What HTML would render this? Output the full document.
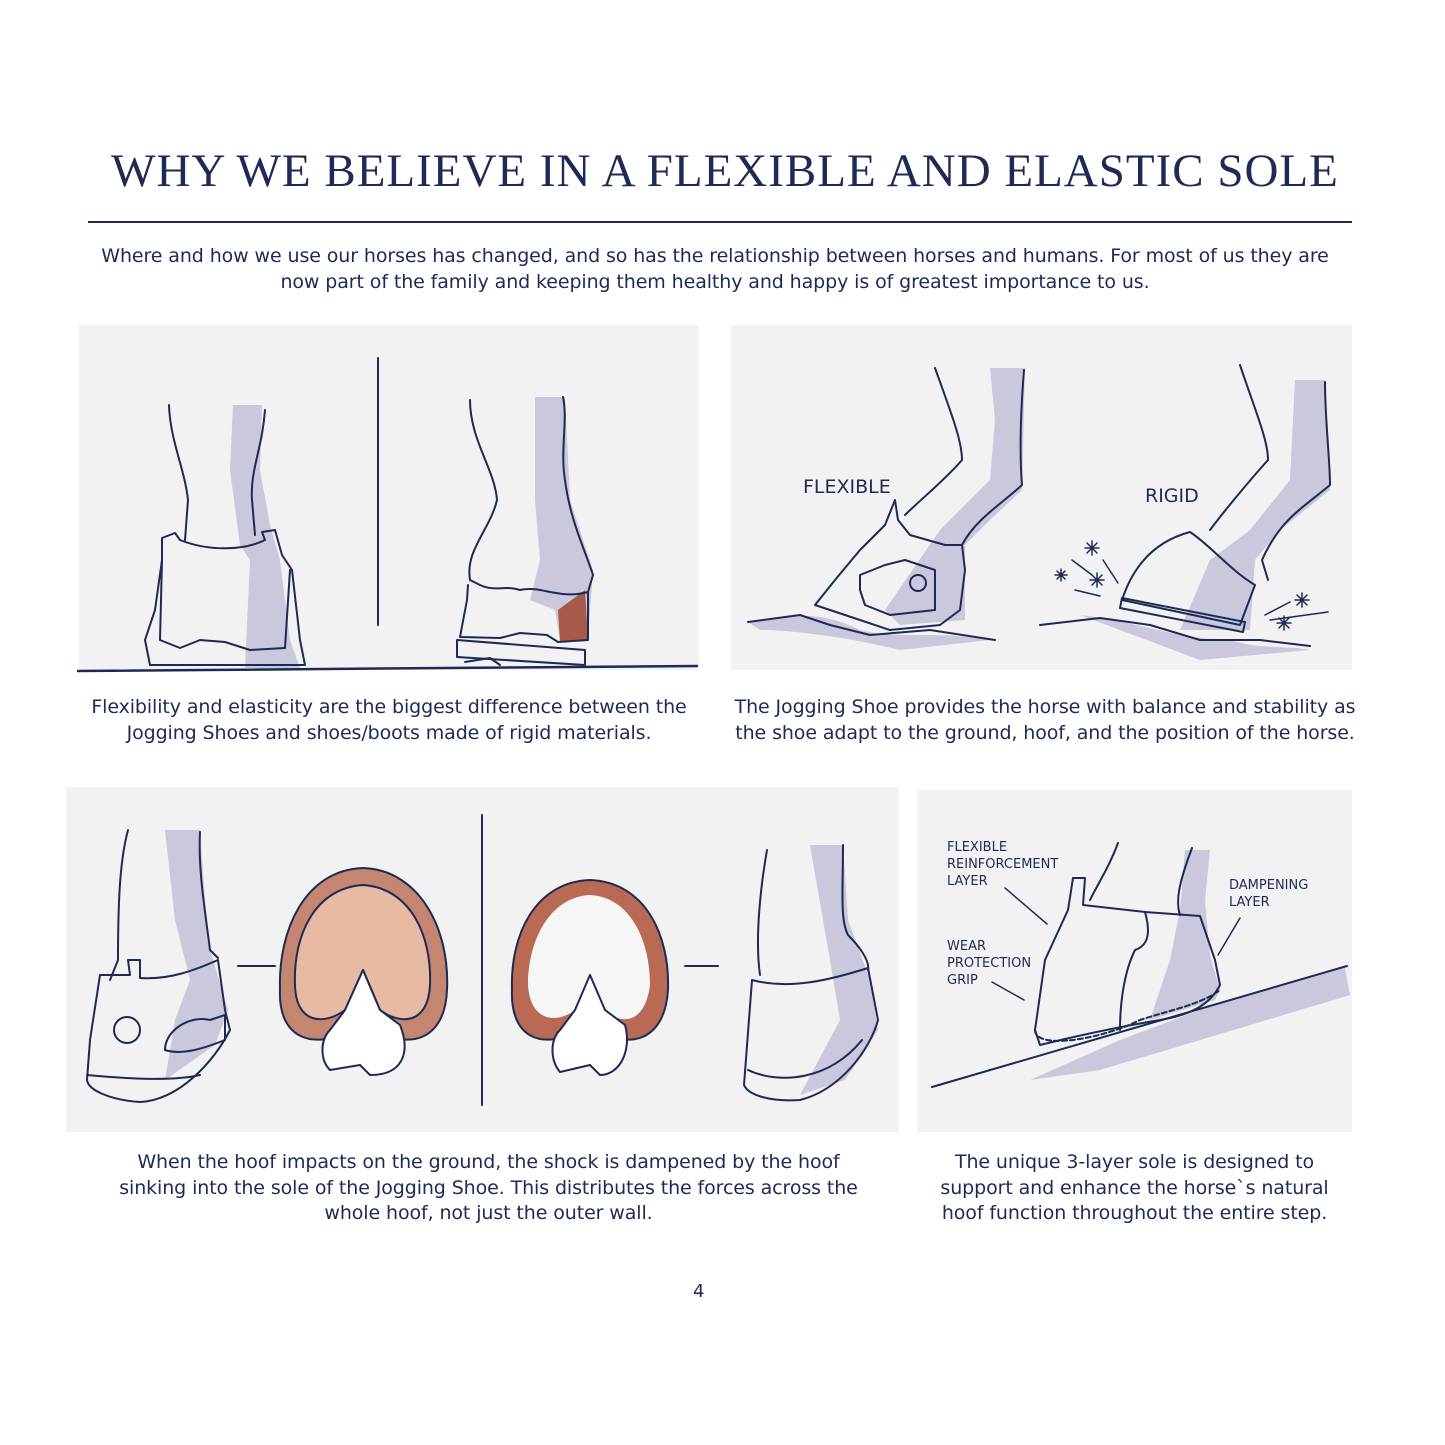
<!DOCTYPE html>
<html><head><meta charset="utf-8">
<style>
html,body{margin:0;padding:0;background:#fff;}
body{width:1445px;height:1445px;position:relative;overflow:hidden;font-family:"DejaVu Sans","Liberation Sans",sans-serif;color:#1c2a55;}
.t{position:absolute;white-space:nowrap;}
.title{left:0;width:1450px;text-align:center;top:144px;font-family:"Liberation Serif",serif;font-size:47px;letter-spacing:1px;color:#1c2a55;}
.p{font-size:19px;text-align:center;line-height:25.5px;letter-spacing:-0.1px;}
.panel{position:absolute;background:#f2f2f2;}
svg{position:absolute;left:0;top:0;}
.sm{font-size:13px;line-height:17px;}
</style></head><body>
<div class="t title">WHY WE BELIEVE IN A FLEXIBLE AND ELASTIC SOLE</div>
<div style="position:absolute;left:88px;top:221px;width:1264px;height:1.5px;background:#1c2a55"></div>
<div class="t p" style="left:0;width:1430px;top:244px;">Where and how we use our horses has changed, and so has the relationship between horses and humans. For most of us they are<br>now part of the family and keeping them healthy and happy is of greatest importance to us.</div>

<div class="panel" style="left:79px;top:325px;width:620px;height:345px"></div>
<div class="panel" style="left:731px;top:325px;width:621px;height:345px"></div>
<div class="panel" style="left:66px;top:787px;width:833px;height:345px"></div>
<div class="panel" style="left:917px;top:790px;width:435px;height:342px"></div>

<svg width="1445" height="1445" viewBox="0 0 1445 1445" fill="none" stroke="#1c2a55" stroke-width="2" stroke-linejoin="round" stroke-linecap="round">
<g>
<path d="M233 405 L262 405 L260 470 L270 525 L280 560 L290 640 L300 668 L245 668 L250 560 L240 545 L230 470 Z" fill="#c9c8dc" stroke="none"/>
<path d="M169 405 C170 440 185 470 188 500 L185 540"/>
<path d="M265 410 C262 450 250 470 252 500 L255 535"/>
<path d="M162 538 L175 533 L180 540 C210 552 245 550 265 540 L262 532 L275 530 L282 555 L292 570 L300 640 L305 665 L150 665 L145 640 L155 610 L162 560 Z"/>
<path d="M162 560 L160 640 L180 648 L200 640 L225 642 L250 650 L285 648 L290 570"/>
<path d="M78 671 L697 666" stroke-width="2.5"/>
<path d="M378 358 L378 625"/>
<path d="M535 397 L565 397 L570 500 L593 570 L588 640 L560 640 L555 610 L530 600 L540 560 L535 500 Z" fill="#c9c8dc" stroke="none"/>
<path d="M558 610 L585 590 L588 640 L560 642 Z" fill="#a85a4a" stroke="none"/>
<path d="M470 400 C470 440 495 470 497 500 C490 530 465 550 470 580"/>
<path d="M563 397 C568 420 560 450 565 480 C570 520 585 550 593 575 L588 592"/>
<path d="M470 580 L480 585 C495 592 505 585 520 590 C540 585 560 600 588 592 L588 640 L558 642 L547 635 L520 633 L500 638 L460 637 L467 600 L468 585"/>
<path d="M457 640 L585 650 L585 665 L457 657 Z"/>
<path d="M465 662 L490 658 L500 665"/>
</g>
<g>
<path d="M990 368 L1025 368 L1022 490 L990 520 L965 545 L965 620 L900 625 L885 610 L940 530 L990 480 L995 420 Z" fill="#c9c8dc" stroke="none"/>
<path d="M748 622 C790 615 820 610 860 630 C900 640 930 630 990 640 L900 650 C860 640 800 630 760 630 Z" fill="#c9c8dc" stroke="none"/>
<path d="M935 368 C950 410 962 440 962 460 C945 480 920 500 905 515"/>
<path d="M1024 370 C1020 420 1020 460 1022 485 C1000 505 975 520 962 545"/>
<path d="M885 525 L895 500 L898 520 L910 535 L945 545 L962 545 L965 570 L960 610 L940 625 L890 630 L845 615 L815 605 L835 580 L860 550 Z"/>
<path d="M860 575 L885 565 L905 560 L935 570 L935 610 L890 615 L865 605 L860 590 Z"/>
<circle cx="918" cy="583" r="8"/>
<path d="M748 622 L800 615 L830 625 L870 635 L930 630 L995 640"/>
<path d="M1295 380 L1325 380 L1330 490 L1280 530 L1255 560 L1250 630 L1180 630 L1210 560 L1250 530 L1290 480 Z" fill="#c9c8dc" stroke="none"/>
<path d="M1080 615 C1130 620 1180 640 1230 640 C1260 650 1290 645 1310 650 L1200 660 Z" fill="#c9c8dc" stroke="none"/>
<path d="M1240 365 C1255 410 1268 440 1268 460 C1250 480 1225 510 1210 530"/>
<path d="M1325 382 C1325 420 1330 460 1330 485 C1300 510 1280 520 1262 560 L1268 580"/>
<path d="M1122 600 C1135 560 1160 540 1190 532 C1210 545 1230 570 1255 585 L1240 625 Z"/>
<path d="M1122 598 L1245 622 L1243 632 L1120 608 Z"/>
<path d="M1040 625 L1100 618 L1150 625 L1200 640 L1260 640 L1310 646"/>
<g stroke-width="1.5"><path d="M1085 548 L1099 548 M1092 541 L1092 555 M1087 543 L1097 553 M1097 543 L1087 553"/><path d="M1055 575 L1067 575 M1061 569 L1061 581 M1057 571 L1065 579 M1065 571 L1057 579"/><path d="M1090 580 L1104 580 M1097 573 L1097 587 M1092 575 L1102 585 M1102 575 L1092 585"/><path d="M1072 560 L1092 575 M1103 560 L1118 583 M1075 590 L1100 596"/><path d="M1295 600 L1309 600 M1302 593 L1302 607 M1297 595 L1307 605 M1307 595 L1297 605"/><path d="M1277 623 L1291 623 M1284 616 L1284 630 M1279 618 L1289 628 M1289 618 L1279 628"/><path d="M1265 615 L1290 602 M1270 620 L1328 612"/></g>
</g>
<g>
<path d="M165 830 L200 830 L205 900 L210 950 L228 1010 L215 1045 L165 1080 L175 1020 L190 980 L175 920 Z" fill="#c9c8dc" stroke="none"/>
<path d="M128 830 C120 860 118 900 118 960 L110 980"/>
<path d="M200 832 C198 870 205 910 210 950 L218 958"/>
<path d="M100 975 L130 975 L128 960 L140 960 L140 978 C170 980 195 970 218 960 L225 1010 L230 1030 C215 1060 180 1100 140 1102 C110 1100 88 1090 87 1080 L90 1040 Z"/>
<circle cx="127" cy="1030" r="13"/>
<path d="M165 1050 C165 1030 190 1015 210 1020 L225 1015 L225 1040 C200 1050 180 1055 165 1050 Z"/>
<path d="M87 1075 C120 1078 170 1082 200 1075"/>
<path d="M238 966 L275 966 M685 966 L718 966"/>
<path d="M363 868 C420 870 450 930 447 990 C445 1040 410 1050 375 1030 L363 1000 L350 1030 C315 1050 278 1040 280 990 C278 930 305 870 363 868 Z" fill="#c48670"/>
<path d="M363 885 C410 888 432 935 430 985 C428 1025 400 1025 380 1010 L363 970 L345 1010 C325 1025 296 1025 295 985 C293 935 315 888 363 885 Z" fill="#e8b9a3"/>
<path d="M363 970 L380 1010 L400 1025 C410 1050 405 1075 370 1075 L360 1065 L330 1070 C320 1060 320 1040 330 1030 L345 1010 Z" fill="#fff"/>
<path d="M482 815 L482 1105"/>
<path d="M590 880 C645 882 670 935 668 990 C665 1040 630 1050 600 1030 L590 1000 L578 1030 C545 1050 510 1040 512 990 C510 935 535 882 590 880 Z" fill="#b96a54"/>
<path d="M590 895 C630 897 650 940 650 985 C645 1025 620 1025 605 1010 L590 975 L575 1010 C555 1025 530 1020 528 985 C528 940 550 897 590 895 Z" fill="#f6f6f6" stroke="none"/>
<path d="M590 975 L605 1010 L625 1025 C632 1050 620 1075 600 1075 L590 1065 L560 1072 C550 1060 550 1040 560 1030 L575 1010 Z" fill="#fff"/>
<path d="M810 845 L843 845 L848 920 L870 980 L878 1030 L845 1080 L800 1095 L840 1020 L830 960 Z" fill="#c9c8dc" stroke="none"/>
<path d="M767 850 C760 890 755 940 760 975"/>
<path d="M843 845 C843 890 840 920 848 935 C858 945 870 960 868 970"/>
<path d="M752 980 C790 990 830 980 868 968 L878 1020 C870 1050 840 1090 800 1100 C770 1102 748 1095 744 1085 Z"/>
<path d="M748 1070 C780 1085 830 1080 862 1040"/>
</g>
<g>
<path d="M1185 850 L1210 850 L1205 900 L1210 955 L1220 990 L1215 1000 L1150 1020 L1170 960 L1180 910 Z" fill="#c9c8dc" stroke="none"/>
<path d="M1030 1080 L1120 1040 L1200 1010 L1345 968 L1350 995 L1200 1040 L1100 1070 Z" fill="#c9c8dc" stroke="none"/>
<path d="M1118 843 C1110 865 1100 880 1090 900"/>
<path d="M1192 848 C1180 880 1175 900 1180 915"/>
<path d="M1073 878 L1085 878 L1083 905 L1145 912 L1200 916 L1215 960 L1220 985 C1210 1005 1190 1015 1160 1020 C1100 1030 1060 1040 1040 1045 L1035 1030 L1045 960 L1068 910 Z"/>
<path d="M1145 912 C1150 930 1150 945 1135 950 C1125 970 1120 1000 1120 1030"/>
<path d="M1035 1030 C1035 1050 1100 1040 1140 1020 C1170 1010 1200 1005 1220 990" stroke-dasharray="5 3"/>
<path d="M932 1087 L1347 966"/>
<path d="M1005 888 L1047 924 M992 982 L1024 1000 M1240 918 L1218 955" stroke-width="1.5"/>
</g>
</svg>

<div class="t" style="left:803px;top:476px;font-size:19px;">FLEXIBLE</div>
<div class="t" style="left:1145px;top:485px;font-size:19px;">RIGID</div>
<div class="t sm" style="left:947px;top:839px;">FLEXIBLE<br>REINFORCEMENT<br>LAYER</div>
<div class="t sm" style="left:947px;top:938px;">WEAR<br>PROTECTION<br>GRIP</div>
<div class="t sm" style="left:1229px;top:877px;">DAMPENING<br>LAYER</div>

<div class="t p" style="left:79px;width:620px;top:695px;">Flexibility and elasticity are the biggest difference between the<br>Jogging Shoes and shoes/boots made of rigid materials.</div>
<div class="t p" style="left:725px;width:640px;top:695px;">The Jogging Shoe provides the horse with balance and stability as<br>the shoe adapt to the ground, hoof, and the position of the horse.</div>
<div class="t p" style="left:66px;width:845px;top:1150px;">When the hoof impacts on the ground, the shock is dampened by the hoof<br>sinking into the sole of the Jogging Shoe. This distributes the forces across the<br>whole hoof, not just the outer wall.</div>
<div class="t p" style="left:917px;width:435px;top:1150px;">The unique 3-layer sole is designed to<br>support and enhance the horse`s natural<br>hoof function throughout the entire step.</div>
<div class="t" style="left:693px;top:1281px;font-size:18px;">4</div>
</body></html>
